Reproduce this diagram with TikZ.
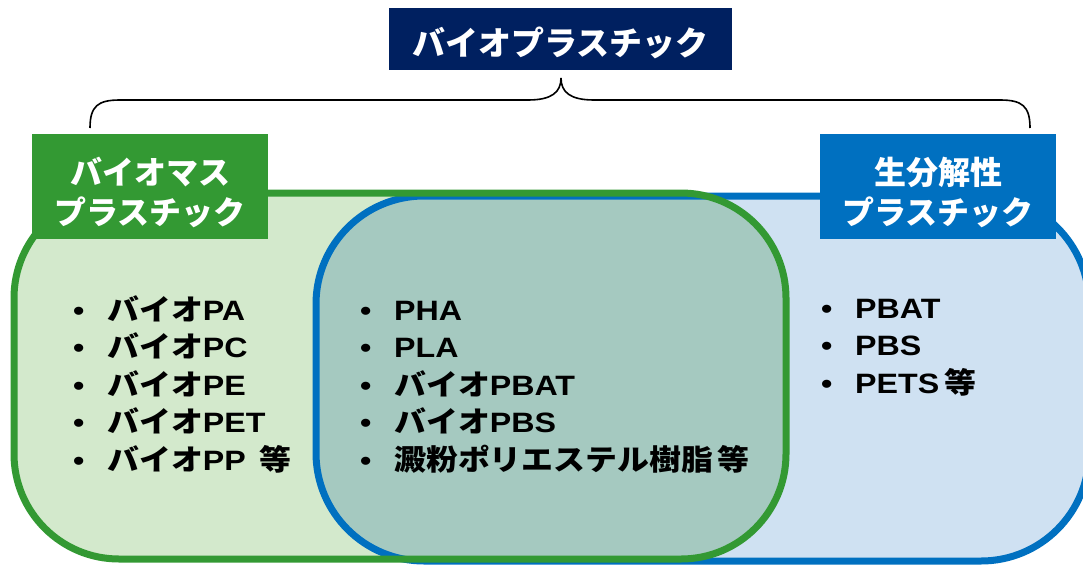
\documentclass[tikz,border=0pt]{standalone}
\usepackage{fontspec}
\newfontfamily\jp[FakeStretch=1.1]{Noto Sans CJK JP}
\newfontfamily\jpmed{Noto Sans CJK JP}
\newfontfamily\lat[FakeStretch=1.15]{Liberation Sans}
\definecolor{gstroke}{HTML}{339933}
\definecolor{bstroke}{HTML}{0070C0}
\definecolor{navy}{HTML}{002060}
\definecolor{gfill}{HTML}{D3E9CC}
\definecolor{bfill}{HTML}{CFE1F2}
\definecolor{ofill}{HTML}{A5C9C0}
\newcommand{\pl}[1]{{\lat\fontsize{28}{34}\selectfont\bfseries #1}}
\newcommand{\bul}{\makebox[34pt][l]{\lat\fontsize{28}{34}\selectfont\bfseries\textbullet}}
\tikzset{
  item/.style={anchor=base west, inner sep=0pt, font=\jp\bfseries\fontsize{29}{34}\selectfont, text=black},
  lbl/.style={anchor=base, inner sep=0pt, font=\jpmed\bfseries\fontsize{32}{38}\selectfont, text=white},
  boxg/.style={fill=gstroke, draw=none},
  boxb/.style={fill=bstroke, draw=none},
}
\begin{document}
\begin{tikzpicture}[x=1pt,y=-1pt]
\useasboundingbox (0,0) rectangle (1083,565);
% fills
\fill[gfill, rounded corners=105pt] (14,193) rectangle (786,559);
\fill[bfill, rounded corners=108pt] (316,196) rectangle (1089,561);
\begin{scope}
  \clip[rounded corners=105pt] (14,193) rectangle (786,559);
  \fill[ofill, rounded corners=108pt] (316,196) rectangle (1089,561);
\end{scope}
% strokes
\draw[bstroke, line width=7pt, rounded corners=108pt] (316,196) rectangle (1089,561);
\draw[gstroke, line width=7pt, rounded corners=105pt] (14,193) rectangle (786,559);
% title
\node[fill=navy, minimum width=343pt, minimum height=62pt, inner sep=0pt] (title) at (560.5,39) {};
\node[lbl, font=\jpmed\bfseries\fontsize{33}{38}\selectfont] (titletext) at (560.5,55) {バイオプラスチック};
% brace
\coordinate (bl) at (90,128);
\coordinate (br) at (1030,128);
\coordinate (bt) at (561,78);
\draw[black, line width=1.6pt] (bl) .. controls (90,106) and (98,100) .. (120,100) -- (528,100)
  .. controls (552,100) and (561,92) .. (bt)
  .. controls (561,92) and (570,100) .. (594,100) -- (1000,100)
  .. controls (1022,100) and (1030,106) .. (br);
% labels
\node[boxg, minimum width=236pt, minimum height=105pt, inner sep=0pt] (gbox) at (150,186.5) {};
\node[lbl] (g1) at (150,184) {バイオマス};
\node[lbl] (g2) at (150,224) {プラスチック};
\node[boxb, minimum width=236pt, minimum height=105pt, inner sep=0pt] (bbox) at (938,186.5) {};
\node[lbl] (b1) at (938,184) {生分解性};
\node[lbl] (b2) at (938,224) {プラスチック};
% left list
\node[item] (l1) at (73,320) {\bul バイオ\pl{PA}};
\node[item] (l2) at (73,357.5) {\bul バイオ\pl{PC}};
\node[item] (l3) at (73,395) {\bul バイオ\pl{PE}};
\node[item] (l4) at (73,432.5) {\bul バイオ\pl{PET}};
\node[item] (l5) at (73,470) {\bul バイオ\pl{PP}\hspace{14pt}等};
% middle list
\node[item] (m1) at (360,320) {\bul \pl{PHA}};
\node[item] (m2) at (360,357.5) {\bul \pl{PLA}};
\node[item] (m3) at (360,395) {\bul バイオ\pl{PBAT}};
\node[item] (m4) at (360,432.5) {\bul バイオ\pl{PBS}};
\node[item] (m5) at (360,470) {\bul 澱粉ポリエステル樹脂\hspace{4pt}等};
% right list
\node[item] (r1) at (821,318) {\bul \pl{PBAT}};
\node[item] (r2) at (821,355.5) {\bul \pl{PBS}};
\node[item] (r3) at (821,393) {\bul \pl{PETS}\hspace{5pt}等};
\end{tikzpicture}
\end{document}
